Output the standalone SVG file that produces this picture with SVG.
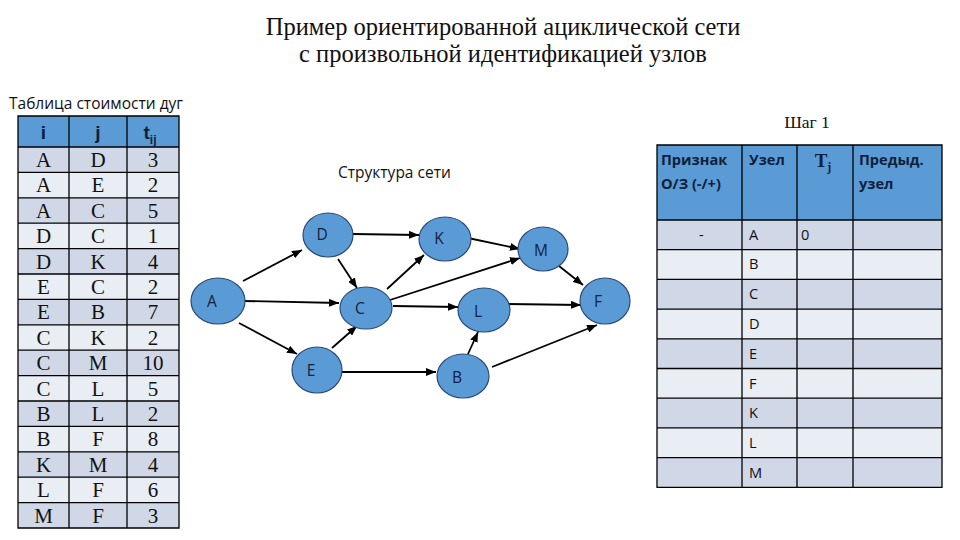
<svg xmlns="http://www.w3.org/2000/svg" width="960" height="540" viewBox="0 0 960 540">
<defs>
<style>
.title{font-family:"Liberation Serif",serif;font-size:24.5px;fill:#111;text-anchor:middle}
.cap{font-family:"Open Sans","Liberation Sans",sans-serif;font-size:15.5px;fill:#111}
.cell{font-family:"Liberation Serif",serif;font-size:21px;fill:#111;text-anchor:middle}
.hd{font-family:"Liberation Sans",sans-serif;font-size:19px;font-weight:bold;fill:#0f1f3a;text-anchor:middle}
.rh{font-family:"Open Sans","Liberation Sans",sans-serif;font-size:14.6px;font-weight:bold;fill:#0f1f3a}
.rc{font-family:"Open Sans","Liberation Sans",sans-serif;font-size:14.6px;fill:#111}
.dk{fill:#d0d8e8}
.lt{fill:#e9edf4}
.hb{fill:#5b9bd5}
.grid{stroke:#000;stroke-width:1.3;fill:none}
.node ellipse{fill:#5b9bd5;stroke:#2c4a78;stroke-width:1.2}
.node text{font-family:"Open Sans","Liberation Sans",sans-serif;font-size:15.5px;fill:#14213d;text-anchor:middle}
.edge{stroke:#000;stroke-width:1.8;fill:none;marker-end:url(#arr)}
</style>
<marker id="arr" markerUnits="userSpaceOnUse" markerWidth="10" markerHeight="8" refX="10" refY="4" orient="auto">
<path d="M0,0 L10,4 L0,8 z" fill="#000"/>
</marker>
</defs>
<rect width="960" height="540" fill="#fff"/>
<text class="title" x="503" y="35">Пример ориентированной ациклической сети</text>
<text class="title" x="503" y="62">с произвольной идентификацией узлов</text>
<text class="cap" x="9" y="109">Таблица стоимости дуг</text>

<g id="cost-table">
<rect class="hb" x="18" y="116" width="161" height="31"/>
<rect class="dk" x="18" y="147" width="161" height="25.4"/>
<rect class="lt" x="18" y="172.4" width="161" height="25.4"/>
<rect class="dk" x="18" y="197.8" width="161" height="25.4"/>
<rect class="lt" x="18" y="223.2" width="161" height="25.4"/>
<rect class="dk" x="18" y="248.6" width="161" height="25.4"/>
<rect class="lt" x="18" y="274" width="161" height="25.4"/>
<rect class="dk" x="18" y="299.4" width="161" height="25.4"/>
<rect class="lt" x="18" y="324.8" width="161" height="25.4"/>
<rect class="dk" x="18" y="350.2" width="161" height="25.4"/>
<rect class="lt" x="18" y="375.6" width="161" height="25.4"/>
<rect class="dk" x="18" y="401" width="161" height="25.4"/>
<rect class="lt" x="18" y="426.4" width="161" height="25.4"/>
<rect class="dk" x="18" y="451.8" width="161" height="25.4"/>
<rect class="lt" x="18" y="477.2" width="161" height="25.4"/>
<rect class="dk" x="18" y="502.6" width="161" height="25.4"/>
<path class="grid" d="M18,116 H179 V528 H18 Z M69,116 V528 M127,116 V528 M18,147 H179 M18,172.4 H179 M18,197.8 H179 M18,223.2 H179 M18,248.6 H179 M18,274 H179 M18,299.4 H179 M18,324.8 H179 M18,350.2 H179 M18,375.6 H179 M18,401 H179 M18,426.4 H179 M18,451.8 H179 M18,477.2 H179 M18,502.6 H179"/>
<text class="hd" x="43.5" y="139">i</text>
<text class="hd" x="98" y="139">j</text>
<text class="hd" x="150" y="139">t<tspan style="font-size:12px" dy="5">ij</tspan></text>
<g class="cell-rows">
<text class="cell" x="43.5" y="167">A</text><text class="cell" x="98" y="167">D</text><text class="cell" x="153" y="167">3</text>
<text class="cell" x="43.5" y="192.4">A</text><text class="cell" x="98" y="192.4">E</text><text class="cell" x="153" y="192.4">2</text>
<text class="cell" x="43.5" y="217.8">A</text><text class="cell" x="98" y="217.8">C</text><text class="cell" x="153" y="217.8">5</text>
<text class="cell" x="43.5" y="243.2">D</text><text class="cell" x="98" y="243.2">C</text><text class="cell" x="153" y="243.2">1</text>
<text class="cell" x="43.5" y="268.6">D</text><text class="cell" x="98" y="268.6">K</text><text class="cell" x="153" y="268.6">4</text>
<text class="cell" x="43.5" y="294">E</text><text class="cell" x="98" y="294">C</text><text class="cell" x="153" y="294">2</text>
<text class="cell" x="43.5" y="319.4">E</text><text class="cell" x="98" y="319.4">B</text><text class="cell" x="153" y="319.4">7</text>
<text class="cell" x="43.5" y="344.8">C</text><text class="cell" x="98" y="344.8">K</text><text class="cell" x="153" y="344.8">2</text>
<text class="cell" x="43.5" y="370.2">C</text><text class="cell" x="98" y="370.2">M</text><text class="cell" x="153" y="370.2">10</text>
<text class="cell" x="43.5" y="395.6">C</text><text class="cell" x="98" y="395.6">L</text><text class="cell" x="153" y="395.6">5</text>
<text class="cell" x="43.5" y="421">B</text><text class="cell" x="98" y="421">L</text><text class="cell" x="153" y="421">2</text>
<text class="cell" x="43.5" y="446.4">B</text><text class="cell" x="98" y="446.4">F</text><text class="cell" x="153" y="446.4">8</text>
<text class="cell" x="43.5" y="471.8">K</text><text class="cell" x="98" y="471.8">M</text><text class="cell" x="153" y="471.8">4</text>
<text class="cell" x="43.5" y="497.2">L</text><text class="cell" x="98" y="497.2">F</text><text class="cell" x="153" y="497.2">6</text>
<text class="cell" x="43.5" y="522.6">M</text><text class="cell" x="98" y="522.6">F</text><text class="cell" x="153" y="522.6">3</text>
</g>
</g>

<text class="cap" x="338" y="178">Структура сети</text>

<g id="connectors">
<line class="edge" x1="243" y1="281" x2="302" y2="250"/>
<line class="edge" x1="244" y1="301" x2="339" y2="303"/>
<line class="edge" x1="239" y1="323" x2="297" y2="354"/>
<line class="edge" x1="338" y1="259" x2="357" y2="288"/>
<line class="edge" x1="353" y1="234" x2="419" y2="235"/>
<line class="edge" x1="387" y1="289" x2="424" y2="255"/>
<line class="edge" x1="332" y1="348" x2="357" y2="326"/>
<line class="edge" x1="342" y1="372" x2="436" y2="372"/>
<line class="edge" x1="468" y1="238" x2="520" y2="249"/>
<line class="edge" x1="390" y1="300" x2="520" y2="258"/>
<line class="edge" x1="393" y1="306" x2="458" y2="307"/>
<line class="edge" x1="508" y1="304" x2="581" y2="305"/>
<line class="edge" x1="559" y1="266" x2="583" y2="285"/>
<line class="edge" x1="468" y1="354" x2="478" y2="332"/>
<line class="edge" x1="492" y1="367" x2="597" y2="325"/>
</g>

<g id="node-A" class="node"><ellipse cx="218" cy="301" rx="27" ry="23"/><text x="212" y="307">A</text></g>
<g id="node-D" class="node"><ellipse cx="328" cy="235" rx="25" ry="22"/><text x="322" y="240">D</text></g>
<g id="node-C" class="node"><ellipse cx="366" cy="308" rx="26" ry="21"/><text x="360" y="314">C</text></g>
<g id="node-E" class="node"><ellipse cx="317" cy="370" rx="25" ry="23"/><text x="311" y="376">E</text></g>
<g id="node-K" class="node"><ellipse cx="445" cy="239" rx="26" ry="22"/><text x="439" y="244">K</text></g>
<g id="node-M" class="node"><ellipse cx="543" cy="249" rx="25" ry="22"/><text x="541" y="256">M</text></g>
<g id="node-L" class="node"><ellipse cx="484" cy="310" rx="26" ry="22"/><text x="478" y="317">L</text></g>
<g id="node-F" class="node"><ellipse cx="605" cy="301" rx="25" ry="23"/><text x="598" y="307">F</text></g>
<g id="node-B" class="node"><ellipse cx="463" cy="376" rx="26" ry="22"/><text x="457" y="383">B</text></g>

<text class="title" x="807" y="128" style="font-size:17.5px">Шаг 1</text>

<g id="step-table">
<rect class="hb" x="657" y="145" width="285" height="75"/>
<rect class="dk" x="657" y="220" width="285" height="29.7"/>
<rect class="lt" x="657" y="249.7" width="285" height="29.7"/>
<rect class="dk" x="657" y="279.4" width="285" height="29.7"/>
<rect class="lt" x="657" y="309.1" width="285" height="29.7"/>
<rect class="dk" x="657" y="338.8" width="285" height="29.7"/>
<rect class="lt" x="657" y="368.5" width="285" height="29.7"/>
<rect class="dk" x="657" y="398.2" width="285" height="29.7"/>
<rect class="lt" x="657" y="427.9" width="285" height="29.7"/>
<rect class="dk" x="657" y="457.6" width="285" height="29.7"/>
<path class="grid" d="M657,145 H942 V487.3 H657 Z M742,145 V487.3 M797,145 V487.3 M853,145 V487.3 M657,220 H942 M657,249.7 H942 M657,279.4 H942 M657,309.1 H942 M657,338.8 H942 M657,368.5 H942 M657,398.2 H942 M657,427.9 H942 M657,457.6 H942"/>
<text class="rh" x="661" y="165">Признак</text>
<text class="rh" x="661" y="189">О/З (-/+)</text>
<text class="rh" x="749" y="165">Узел</text>
<text class="hd" x="823" y="167" style="font-family:'Liberation Serif',serif;font-size:19px">T<tspan style="font-size:12px" dy="4">j</tspan></text>
<text class="rh" x="859" y="165">Предыд.</text>
<text class="rh" x="859" y="189">узел</text>
<text class="rc" x="699" y="240">-</text>
<text class="rc" x="749" y="240">A</text>
<text class="rc" x="801" y="240">0</text>
<text class="rc" x="749" y="269">B</text>
<text class="rc" x="749" y="299">C</text>
<text class="rc" x="749" y="329">D</text>
<text class="rc" x="749" y="359">E</text>
<text class="rc" x="749" y="389">F</text>
<text class="rc" x="749" y="418">K</text>
<text class="rc" x="749" y="448">L</text>
<text class="rc" x="749" y="478">M</text>
</g>
</svg>
